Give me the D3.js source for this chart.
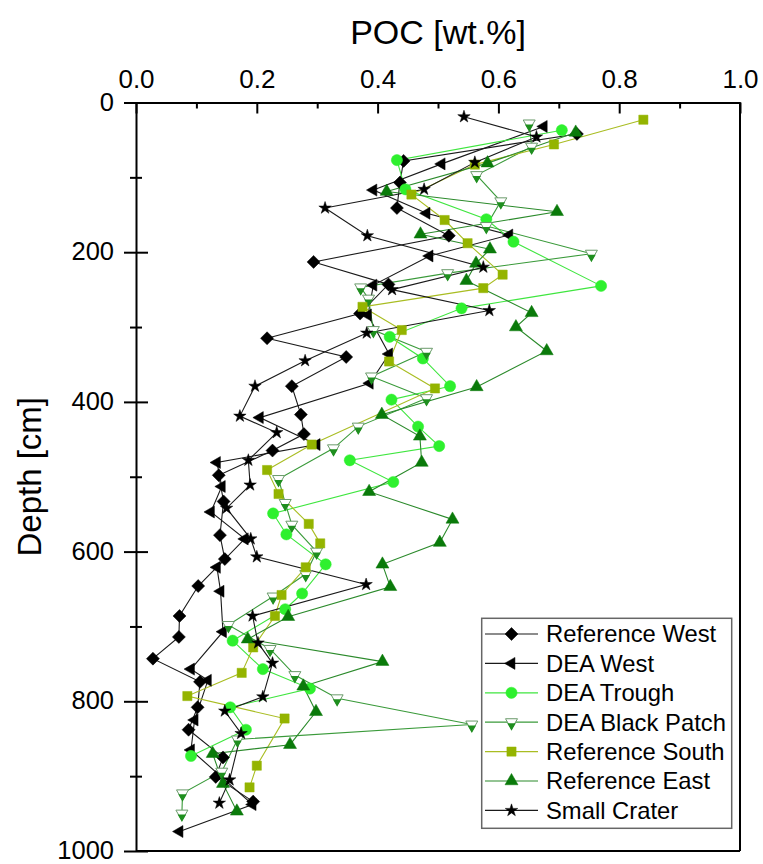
<!DOCTYPE html>
<html>
<head>
<meta charset="utf-8">
<script src="https://cdn.jsdelivr.net/npm/d3@7"></script>
<style>
  html, body { margin: 0; padding: 0; background: #fff; }
  svg { display: block; font-family: "Liberation Sans", Arial, sans-serif; }
</style>
</head>
<body>
<svg id="chart" width="763" height="864"></svg>
<script>
// ---------------- DATA ----------------
const seriesNames = ["Reference West", "DEA West", "DEA Trough", "DEA Black Patch", "Reference South", "Reference East", "Small Crater"];
const xTickValues = [0, 0.2, 0.4, 0.6, 0.8, 1.0];
const xMinorValues = [0.1, 0.3, 0.5, 0.7, 0.9];
const yTickValues = [0, 200, 400, 600, 800, 1000];
const yMinorValues = [100, 300, 500, 700, 900];

const refWestDepth = [42, 78, 107, 141, 178, 213, 243, 282, 315, 340, 379, 417, 443, 465, 498, 533, 578, 610, 646, 686, 714, 743, 774, 808, 838, 875, 901, 934];
const refWestPOC   = [0.73, 0.443, 0.437, 0.432, 0.518, 0.294, 0.418, 0.371, 0.217, 0.348, 0.258, 0.273, 0.278, 0.226, 0.137, 0.145, 0.139, 0.147, 0.103, 0.072, 0.071, 0.028, 0.106, 0.102, 0.087, 0.144, 0.132, 0.194];

const deaWestDepth = [32, 82, 117, 148, 177, 205, 244, 284, 336, 375, 421, 457, 481, 513, 547, 583, 621, 653, 707, 757, 772, 825, 865, 938, 974];
const deaWestPOC   = [0.675, 0.506, 0.393, 0.481, 0.618, 0.486, 0.393, 0.384, 0.419, 0.387, 0.205, 0.299, 0.134, 0.142, 0.124, 0.18, 0.134, 0.14, 0.144, 0.091, 0.119, 0.097, 0.091, 0.193, 0.072];

const deaTroughDepth = [37, 77, 116, 156, 186, 245, 275, 313, 342, 379, 397, 433, 459, 478, 507, 549, 577, 617, 656, 677, 719, 757, 783, 808, 838, 873];
const deaTroughPOC   = [0.705, 0.432, 0.446, 0.58, 0.625, 0.77, 0.539, 0.42, 0.475, 0.52, 0.423, 0.467, 0.502, 0.354, 0.426, 0.227, 0.249, 0.314, 0.275, 0.247, 0.16, 0.21, 0.288, 0.156, 0.182, 0.091];

const blackPatchDepth = [28, 59, 97, 132, 165, 202, 228, 247, 262, 304, 333, 366, 395, 433, 462, 503, 535, 564, 600, 630, 660, 698, 730, 765, 796, 831, 851, 894, 923, 950];
const blackPatchPOC   = [0.651, 0.655, 0.564, 0.604, 0.58, 0.754, 0.516, 0.372, 0.385, 0.393, 0.481, 0.39, 0.481, 0.368, 0.327, 0.236, 0.247, 0.258, 0.299, 0.281, 0.227, 0.153, 0.222, 0.263, 0.333, 0.556, 0.168, 0.142, 0.077, 0.076];

const refSouthDepth = [23, 56, 83, 123, 157, 188, 230, 248, 273, 304, 346, 382, 457, 491, 523, 563, 589, 621, 658, 686, 728, 762, 793, 823, 886, 915];
const refSouthPOC   = [0.84, 0.692, 0.561, 0.456, 0.511, 0.549, 0.607, 0.575, 0.375, 0.44, 0.419, 0.495, 0.291, 0.217, 0.236, 0.286, 0.305, 0.281, 0.241, 0.23, 0.194, 0.175, 0.085, 0.246, 0.2, 0.188];

const refEastDepth = [40, 81, 119, 146, 176, 196, 215, 238, 281, 300, 332, 380, 417, 446, 481, 520, 557, 588, 617, 647, 687, 717, 747, 780, 814, 858, 870, 910, 947];
const refEastPOC   = [0.728, 0.582, 0.415, 0.697, 0.471, 0.586, 0.563, 0.547, 0.655, 0.629, 0.68, 0.564, 0.407, 0.47, 0.473, 0.386, 0.524, 0.503, 0.408, 0.421, 0.252, 0.185, 0.408, 0.277, 0.298, 0.255, 0.127, 0.144, 0.167];

const smallCraterDepth = [19, 46, 80, 116, 141, 178, 220, 250, 278, 308, 345, 379, 419, 441, 478, 511, 542, 583, 607, 644, 686, 722, 749, 794, 813, 843, 905, 936];
const smallCraterPOC   = [0.543, 0.663, 0.561, 0.477, 0.313, 0.383, 0.575, 0.424, 0.585, 0.382, 0.28, 0.197, 0.172, 0.233, 0.186, 0.189, 0.15, 0.19, 0.2, 0.381, 0.193, 0.202, 0.226, 0.21, 0.147, 0.174, 0.155, 0.138];

// ---------------- STYLE ----------------
const styles = [
  { line: "#1a1a1a", fill: "#000000", stroke: "#000000", shape: "diamond" },
  { line: "#1a1a1a", fill: "#000000", stroke: "#000000", shape: "left" },
  { line: "#3fe63f", fill: "#2ef02e", stroke: "#2ef02e", shape: "circle" },
  { line: "#3a9a3a", fill: "#1f8f1f", stroke: "#6a9a6a", shape: "downhalf" },
  { line: "#a9bd22", fill: "#94b400", stroke: "#94b400", shape: "square" },
  { line: "#2b8a2b", fill: "#0a7a0a", stroke: "#0a7a0a", shape: "up" },
  { line: "#1a1a1a", fill: "#000000", stroke: "#000000", shape: "star" }
];

const seriesData = [
  [refWestDepth, refWestPOC],
  [deaWestDepth, deaWestPOC],
  [deaTroughDepth, deaTroughPOC],
  [blackPatchDepth, blackPatchPOC],
  [refSouthDepth, refSouthPOC],
  [refEastDepth, refEastPOC],
  [smallCraterDepth, smallCraterPOC]
].map(([d, p], i) => ({
  name: seriesNames[i],
  style: styles[i],
  points: d.map((dep, j) => ({ depth: dep, poc: p[j] }))
}));

// ---------------- CHART ----------------
const svg = d3.select("#chart");
const x = d3.scaleLinear().domain([0, 1]).range([136, 740]);
const y = d3.scaleLinear().domain([0, 1000]).range([102.5, 851]);

const fontTick = 25.5;

// frame (right and bottom)
svg.append("line").attr("x1", x(1)).attr("x2", x(1)).attr("y1", y(0)).attr("y2", y(1000))
  .attr("stroke", "#000").attr("stroke-width", 2);
svg.append("line").attr("x1", x(0)).attr("x2", x(1)).attr("y1", y(1000)).attr("y2", y(1000))
  .attr("stroke", "#000").attr("stroke-width", 2);

// top x axis (ticks inward)
const xAxis = d3.axisTop(x).tickValues(xTickValues).tickFormat(d3.format(".1f"))
  .tickSizeInner(-11).tickSizeOuter(0).tickPadding(15);
const gx = svg.append("g").attr("transform", `translate(0,${y(0)})`).call(xAxis);
gx.select(".domain").attr("stroke-width", 2);
gx.selectAll(".tick line").attr("stroke-width", 2);
gx.selectAll(".tick text").attr("font-size", 26).attr("font-family", "Liberation Sans, Arial, sans-serif").attr("fill", "#000");

const xMinor = d3.axisTop(x).tickValues(xMinorValues).tickFormat("").tickSizeInner(-6).tickSizeOuter(0);
const gxm = svg.append("g").attr("transform", `translate(0,${y(0)})`).call(xMinor);
gxm.select(".domain").remove();
gxm.selectAll(".tick line").attr("stroke-width", 2);

// left y axis (ticks crossing)
const yAxis = d3.axisLeft(y).tickValues(yTickValues).tickFormat(d3.format("d"))
  .tickSizeInner(12).tickSizeOuter(0).tickPadding(10);
const gy = svg.append("g").attr("transform", `translate(${x(0)},0)`).call(yAxis);
gy.select(".domain").attr("stroke-width", 2);
gy.selectAll(".tick line").attr("stroke-width", 2);
gy.selectAll(".tick text").attr("font-size", fontTick).attr("dy", "0.3em")
  .attr("font-family", "Liberation Sans, Arial, sans-serif").attr("fill", "#000");

const yIn = d3.axisLeft(y).tickValues(yTickValues).tickFormat("").tickSizeInner(-12).tickSizeOuter(0);
const gyi = svg.append("g").attr("transform", `translate(${x(0)},0)`).call(yIn);
gyi.select(".domain").remove();
gyi.selectAll(".tick line").attr("stroke-width", 2);

const yMinorOut = d3.axisLeft(y).tickValues(yMinorValues).tickFormat("").tickSizeInner(6).tickSizeOuter(0);
const gym = svg.append("g").attr("transform", `translate(${x(0)},0)`).call(yMinorOut);
gym.select(".domain").remove();
gym.selectAll(".tick line").attr("stroke-width", 2);
const yMinorIn = d3.axisLeft(y).tickValues(yMinorValues).tickFormat("").tickSizeInner(-6).tickSizeOuter(0);
const gymi = svg.append("g").attr("transform", `translate(${x(0)},0)`).call(yMinorIn);
gymi.select(".domain").remove();
gymi.selectAll(".tick line").attr("stroke-width", 2);

// axis titles
svg.append("text").attr("x", (x(0) + x(1)) / 2).attr("y", 44)
  .attr("text-anchor", "middle").attr("font-size", 34).text("POC [wt.%]");
svg.append("text")
  .attr("transform", `translate(41,${(y(0) + y(1000)) / 2}) rotate(-90)`)
  .attr("text-anchor", "middle").attr("font-size", 33).text("Depth [cm]");

// ---------------- MARKERS ----------------
function markerPath(shape) {
  const s3 = Math.sqrt(3);
  switch (shape) {
    case "diamond": { const r = 6.5; return `M0,${-r}L${r},0L0,${r}L${-r},0Z`; }
    case "square": { const h = 4.6; return `M${-h},${-h}H${h}V${h}H${-h}Z`; }
    case "circle": { const r = 5.6; return `M${r},0A${r},${r} 0 1,1 ${-r},0A${r},${r} 0 1,1 ${r},0Z`; }
    case "up": { const s = 13, h = s * s3 / 2; return `M0,${-2 * h / 3}L${s / 2},${h / 3}L${-s / 2},${h / 3}Z`; }
    case "left": { const s = 12, h = s * s3 / 2; return `M${-2 * h / 3},0L${h / 3},${-s / 2}L${h / 3},${s / 2}Z`; }
    case "down": { const s = 12, h = s * s3 / 2; return `M${-s / 2},${-h / 3}L${s / 2},${-h / 3}L0,${2 * h / 3}Z`; }
    case "downlow": { const s = 12, h = s * s3 / 2; return `M${-s / 4},${h / 6}L${s / 4},${h / 6}L0,${2 * h / 3}Z`; }
    case "star": return d3.symbol(d3.symbolStar, 48)();
  }
}

function drawMarker(g, shape, st) {
  if (shape === "downhalf") {
    g.append("path").attr("d", markerPath("down")).attr("fill", "#fff").attr("stroke", st.stroke).attr("stroke-width", 1);
    g.append("path").attr("d", markerPath("downlow")).attr("fill", st.fill).attr("stroke", st.fill).attr("stroke-width", 1.5);
  } else {
    g.append("path").attr("d", markerPath(shape)).attr("fill", st.fill).attr("stroke", st.stroke).attr("stroke-width", 0.5);
  }
}

const line = d3.line().x(d => x(d.poc)).y(d => y(d.depth));

// lines first (in order), then markers
seriesData.forEach(s => {
  svg.append("path").datum(s.points).attr("d", line)
    .attr("fill", "none").attr("stroke", s.style.line).attr("stroke-width", 1.1);
});
seriesData.forEach(s => {
  const gs = svg.append("g");
  s.points.forEach(p => {
    const g = gs.append("g").attr("transform", `translate(${x(p.poc)},${y(p.depth)})`);
    drawMarker(g, s.style.shape, s.style);
  });
});

// ---------------- LEGEND ----------------
const lgX = 481.7, lgY = 618.3, lgW = 250, lgH = 210, rowH = 29.4, row0 = 634;
svg.append("rect").attr("x", lgX).attr("y", lgY).attr("width", lgW).attr("height", lgH)
  .attr("fill", "#fff").attr("stroke", "#666").attr("stroke-width", 1.5);
seriesData.forEach((s, i) => {
  const cy = row0 + i * rowH;
  svg.append("line").attr("x1", 485).attr("x2", 538).attr("y1", cy).attr("y2", cy)
    .attr("stroke", s.style.line).attr("stroke-width", 1.2);
  const g = svg.append("g").attr("transform", `translate(511.5,${cy})`);
  drawMarker(g, s.style.shape, s.style);
  svg.append("text").attr("x", 546).attr("y", cy + 8.3).attr("font-size", 23.8).attr("fill", "#000").text(s.name);
});
</script>
</body>
</html>
